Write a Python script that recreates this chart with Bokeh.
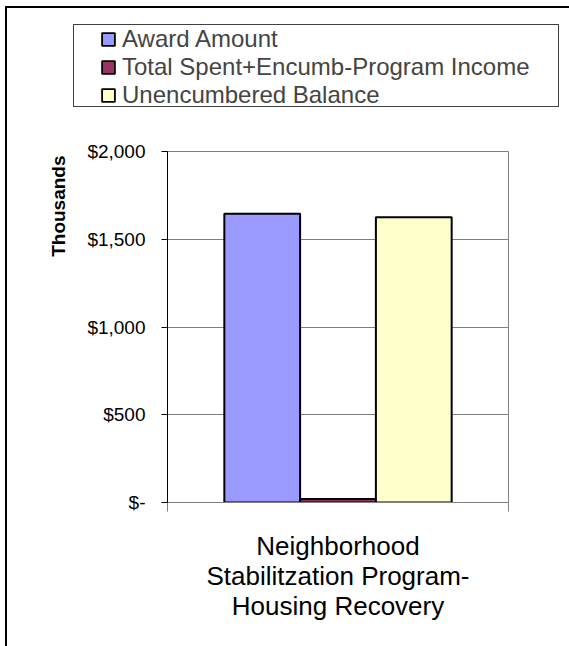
from bokeh.plotting import figure
from bokeh.layouts import column
from bokeh.models import Range1d, FixedTicker, Legend, LegendItem, Title
from bokeh.embed import file_html
from bokeh.resources import INLINE

category = "Neighborhood\nStabilitzation Program-\nHousing Recovery"
series = ["Award Amount", "Total Spent+Encumb-Program Income", "Unencumbered Balance"]
values = [1645, 20, 1625]
colors = ["#9999FF", "#993366", "#FFFFCC"]
y_ticks = [0, 500, 1000, 1500, 2000]
y_tick_labels = ["$-", "$500", "$1,000", "$1,500", "$2,000"]
y_title = "Thousands"

FONT = "Liberation Sans"
gap = 1.5
n = len(series)
w = 1.0 / (n + gap)
TOP_H = 130

# decorative frames (outer chart border and legend box) drawn as CSS background lines
lines = [
    "linear-gradient(#000,#000) 5px 6px / 100% 2px no-repeat",
    "linear-gradient(#000,#000) 5px 6px / 2px 100% no-repeat",
    "linear-gradient(#404040,#404040) 73px 24px / 486px 1px no-repeat",
    "linear-gradient(#404040,#404040) 73px 106px / 486px 1px no-repeat",
    "linear-gradient(#404040,#404040) 73px 24px / 1px 83px no-repeat",
    "linear-gradient(#404040,#404040) 558px 24px / 1px 83px no-repeat",
]

# ---- main chart ----
p = figure(width=569, height=646 - TOP_H, x_range=Range1d(0, 1), y_range=Range1d(0, 2000),
           output_backend="svg", toolbar_location=None, frame_align=False,
           min_border_left=167, min_border_right=61, min_border_top=151 - TOP_H, min_border_bottom=144,
           styles={"overflow": "hidden"})
p.background_fill_color = "white"
p.border_fill_alpha = 0
p.outline_line_color = "#808080"
p.xgrid.visible = False
p.ygrid.ticker = FixedTicker(ticks=y_ticks)
p.ygrid.grid_line_color = "#808080"

for i, (s, v, c) in enumerate(zip(series, values, colors)):
    xc = 0.5 + (i - (n - 1) / 2) * w
    p.vbar(x=[xc], top=[v], bottom=0, width=w, fill_color=c, line_color="black", line_width=2)

ya = p.yaxis[0]
ya.ticker = FixedTicker(ticks=y_ticks)
ya.major_label_overrides = {t: l for t, l in zip(y_ticks, y_tick_labels)}
ya.major_tick_out = 6
ya.major_tick_in = 0
ya.minor_tick_out = 0
ya.minor_tick_in = 0
ya.axis_line_color = "black"
ya.major_tick_line_color = "black"
ya.major_label_text_font = FONT
ya.major_label_text_font_size = "19px"
ya.major_label_text_color = "black"
ya.major_label_standoff = 16

xa = p.xaxis[0]
xa.ticker = FixedTicker(ticks=[0.5], minor_ticks=[0, 1])
xa.major_label_overrides = {0.5: category}
xa.major_tick_out = 0
xa.major_tick_in = 0
xa.minor_tick_out = 9
xa.minor_tick_in = 0
xa.minor_tick_line_color = "#808080"
xa.axis_line_color = "#808080"
xa.major_label_text_font = FONT
xa.major_label_text_font_size = "26px"
xa.major_label_text_color = "black"
xa.major_label_text_line_height = 1.0
xa.major_label_standoff = 19

ytitle = Title(text=y_title, align="right", text_font=FONT, text_font_size="19px",
               text_font_style="bold", text_color="black", standoff=31, offset=4)
p.add_layout(ytitle, "left")

# ---- legend strip (its own frame covers the whole strip) ----
lg = figure(width=569, height=TOP_H, x_range=Range1d(0, 1), y_range=Range1d(0, 1),
            output_backend="svg", toolbar_location=None, frame_align=False,
            x_axis_location=None, y_axis_location=None, min_border=0,
            styles={"overflow": "hidden"})
lg.grid.visible = False
lg.outline_line_color = None
lg.background_fill_alpha = 0
lg.border_fill_alpha = 0
swatches = []
for s, c in zip(series, colors):
    # a hairline bar hidden under the outer border line: only its legend swatch is seen
    swatches.append(lg.vbar(x=[6 / 569], top=[-1], bottom=[-2], width=0.001,
                            fill_color=c, line_color="black", line_width=1.8))

legend = Legend(items=[LegendItem(label=s, renderers=[r]) for s, r in zip(series, swatches)],
                location=(100, 21), padding=0, spacing=-5, margin=0,
                glyph_width=16, glyph_height=16, label_standoff=6,
                label_text_font=FONT, label_text_font_size="24px", label_height=24,
                border_line_alpha=0, background_fill_alpha=0)
lg.add_layout(legend)

layout = column(lg, p, spacing=0,
                styles={"background": ", ".join(lines) + ", #ffffff", "overflow": "hidden"})

open("out.html", "w").write(file_html(layout, INLINE))
